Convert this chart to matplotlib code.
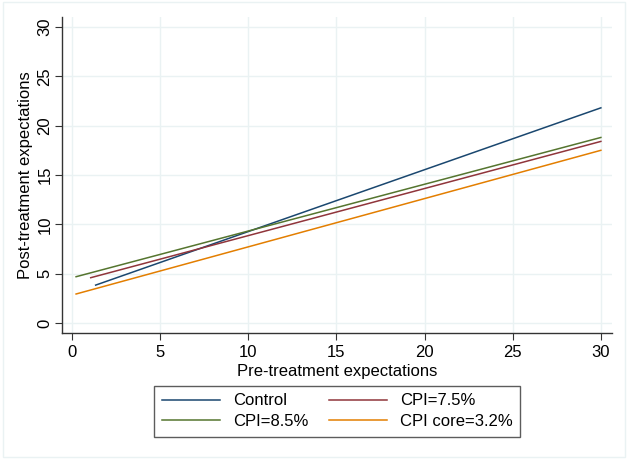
import matplotlib.pyplot as plt
from matplotlib.patches import Rectangle

plt.rcParams['font.family'] = ['Liberation Sans', 'DejaVu Sans']

# fitted lines: start and end points
series = ['Control', 'CPI=7.5%', 'CPI=8.5%', 'CPI core=3.2%']
x_start = [1.34, 1.06, 0.23, 0.23]
x_end = [30, 30, 30, 30]
y_start = [3.85, 4.6, 4.7, 2.95]
y_end = [21.8, 18.4, 18.8, 17.5]
colors = ['#1a476f', '#90353b', '#55752f', '#e37e00']

x_ticks = [0, 5, 10, 15, 20, 25, 30]
y_ticks = [0, 5, 10, 15, 20, 25, 30]

fig = plt.figure(figsize=(6.28, 4.59), dpi=100)
ax = fig.add_axes([0.0987, 0.2745, 0.8758, 0.6885])

handles = []
for name, x0, x1, y0, y1, c in zip(series, x_start, x_end, y_start, y_end, colors):
    h, = ax.plot([x0, x1], [y0, y1], color=c, lw=1.1, label=name)
    handles.append(h)

ax.set_xlim(-0.57, 30.63)
ax.set_ylim(-1.0, 31.0)
ax.set_xticks(x_ticks)
ax.set_yticks(y_ticks)
ax.grid(True, color='#eaf2f3', lw=1.0)
ax.set_axisbelow(True)
for side in ['top', 'right']:
    ax.spines[side].set_visible(False)
for side in ['left', 'bottom']:
    ax.spines[side].set_color('#333333')
    ax.spines[side].set_linewidth(1.0)
ax.tick_params(direction='out', length=5, width=0.8, color='#333333', labelsize=12)
ax.tick_params(axis='y', pad=2)
for lab in ax.get_yticklabels():
    lab.set_rotation(90)
    lab.set_va('center')
ax.set_xlabel('Pre-treatment expectations', fontsize=12, labelpad=3)
ax.set_ylabel('Post-treatment expectations', fontsize=12)
ax.yaxis.set_label_coords(-0.053, 0.5)

# legend below the plot, two columns, filled row by row
order = [0, 2, 1, 3]
leg = fig.legend([handles[i] for i in order], [series[i] for i in order],
                 loc='center', bbox_to_anchor=(0.537, 0.104), ncol=2,
                 fontsize=12, frameon=True, fancybox=False,
                 handlelength=3.5, columnspacing=1.2, borderpad=0.45,
                 labelspacing=0.35)
leg.get_frame().set_edgecolor('#333333')
leg.get_frame().set_linewidth(1.0)

# faint outer frame
fig.patches.append(Rectangle((0.004, 0.004), 0.992, 0.992, transform=fig.transFigure,
                             fill=False, edgecolor='#eaf2f3', lw=1.0))

fig.savefig('out.png', dpi=100)
